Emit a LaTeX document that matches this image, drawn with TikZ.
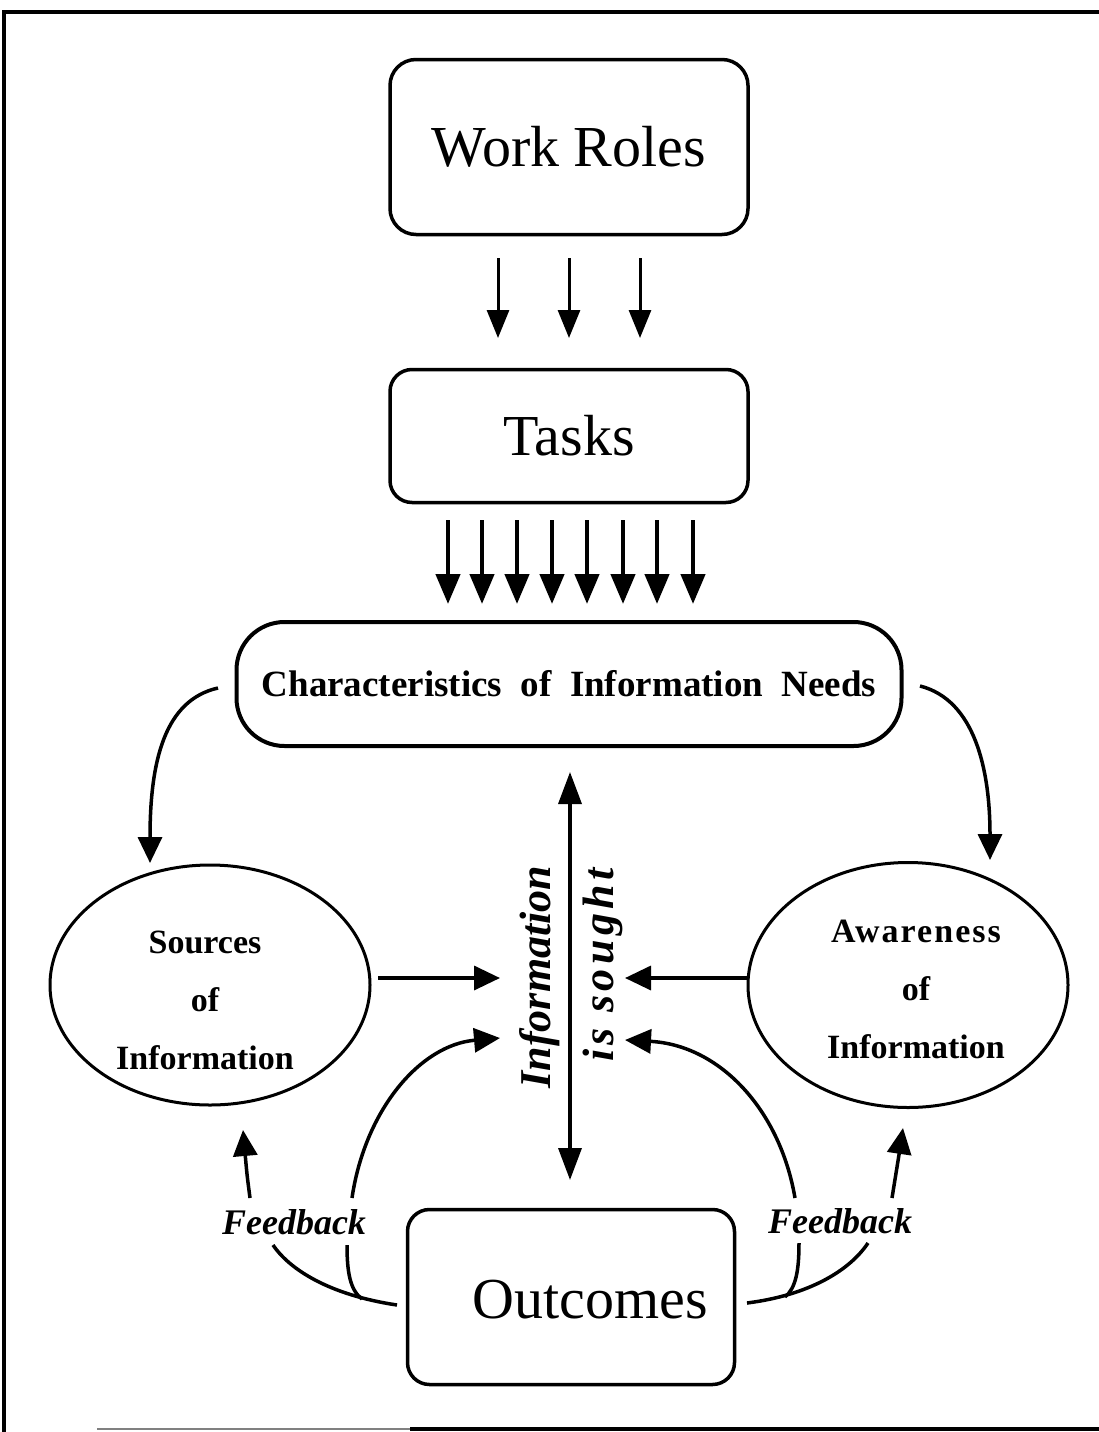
\documentclass[tikz,border=0pt]{standalone}
\usepackage{fontspec}
\setmainfont{Liberation Serif}
\usetikzlibrary{arrows.meta,shapes.geometric}
\begin{document}
\begin{tikzpicture}[x=1pt,y=-1pt,
  box/.style={draw,line width=3.5pt,inner sep=0pt},
  lbl/.style={font=\fontsize{34}{58}\selectfont\bfseries,align=center},
  big/.style={font=\fontsize{58}{60}\selectfont},
  rot/.style={rotate=90,font=\fontsize{44}{46}\selectfont\bfseries\itshape,inner sep=0pt},
  fb/.style={font=\fontsize{36}{38}\selectfont\bfseries\itshape,inner sep=0pt},
  arr/.style={line width=3pt,-{Triangle[length=28pt,width=22pt]}},
  tarr/.style={line width=4.5pt,-{Triangle[length=30pt,width=24pt]}},
  bigarr/.style={line width=3.5pt,-{Triangle[length=26pt,width=24pt]}},
  curve/.style={line width=3.5pt}]
\useasboundingbox (0,0) rectangle (1099,1432);
% frame
\draw[line width=4pt] (4,1432) -- (4,12) -- (1099,12);
\draw[line width=1.5pt,gray] (97,1429) -- (410,1429);
\draw[line width=4pt] (410,1429) -- (1099,1429);

% boxes
\node[box,rounded corners=26pt,minimum width=358pt,minimum height=175pt,big] (wr) at (569,147) {Work Roles};
\node[box,rounded corners=22pt,minimum width=358pt,minimum height=133pt,big] (tk) at (569,436) {Tasks};
\node[box,rounded corners=48pt,minimum width=665pt,minimum height=124pt,line width=4pt,font=\fontsize{37}{40}\selectfont\bfseries] (ch) at (569,684) {Characteristics\hspace{0.25em} of\hspace{0.25em} Information\hspace{0.25em} Needs};
\node[draw,ellipse,line width=3pt,minimum width=320pt,minimum height=240pt,inner sep=0pt] (src) at (210,985) {};
\node[lbl] (srct) at (205,1000) {Sources\\of\\Information};
\node[draw,ellipse,line width=3pt,minimum width=320pt,minimum height=245pt,inner sep=0pt] (awr) at (908,985) {};
\node[lbl] (awrt) at (916,989) {{\addfontfeatures{LetterSpace=6}Awareness}\\of\\Information};
\node[box,rounded corners=22pt,minimum width=327pt,minimum height=175pt] (out) at (571,1297) {};
\node[big] (outt) at (590,1300) {Outcomes};

% rotated labels
\node[rot] (inf) at (540,977) {Information};
\node[rot] (sgt) at (603,965) {\addfontfeatures{LetterSpace=10}is sought};

% Work Roles -> Tasks
\foreach \x in {498,569,640} {
  \coordinate (wa\x) at (\x,258);
  \coordinate (wb\x) at (\x,338);
  \draw[arr] (wa\x) -- (wb\x);
}
% Tasks -> Characteristics
\foreach \x in {448,482,517,552,587,623,657,693} {
  \coordinate (ta\x) at (\x,520);
  \coordinate (tb\x) at (\x,604);
  \draw[tarr] (ta\x) -- (tb\x);
}

% vertical double arrow
\coordinate (v1) at (570,772);
\coordinate (v2) at (570,1180);
\draw[line width=3.5pt,{Triangle[length=32pt,width=23pt]}-{Triangle[length=32pt,width=23pt]}] (v1) -- (v2);

% horizontal arrows
\coordinate (s1) at (378,978);
\coordinate (s2) at (500,978);
\draw[bigarr] (s1) -- (s2);
\coordinate (a1) at (748,978);
\coordinate (a2) at (625,978);
\draw[bigarr] (a1) -- (a2);

% Characteristics curves
\coordinate (cl) at (218,688);
\coordinate (clt) at (150,863);
\draw[bigarr] (cl) .. controls (165,700) and (150,760) .. (clt);
\coordinate (cr) at (920,686);
\coordinate (crt) at (990,860);
\draw[bigarr] (cr) .. controls (975,700) and (990,770) .. (crt);

% Feedback labels
\node[fb] (fbl) at (294,1222) {Feedback};
\node[fb] (fbr) at (840,1221) {Feedback};

% left feedback
\coordinate (lo1) at (397,1305);
\coordinate (lo2) at (273,1245);
\draw[curve] (lo1) .. controls (330,1295) and (290,1270) .. (lo2);
\coordinate (lq1) at (250,1198);
\coordinate (lq2) at (243,1130);
\draw[bigarr] (lq1) .. controls (247,1175) .. (lq2);
\coordinate (li1) at (362,1299);
\coordinate (li2) at (347,1245);
\draw[curve] (li1) .. controls (350,1290) and (347,1272) .. (li2);
\coordinate (lu1) at (352,1198);
\coordinate (lu2) at (500,1038);
\draw[bigarr] (lu1) .. controls (365,1110) and (420,1045) .. (lu2);

% right feedback
\coordinate (ro1) at (747,1303);
\coordinate (ro2) at (868,1243);
\draw[curve] (ro1) .. controls (810,1295) and (850,1270) .. (ro2);
\coordinate (rq1) at (892,1198);
\coordinate (rq2) at (903,1128);
\draw[bigarr] (rq1) .. controls (896,1175) .. (rq2);
\coordinate (ri1) at (785,1297);
\coordinate (ri2) at (799,1243);
\draw[curve] (ri1) .. controls (796,1288) and (799,1270) .. (ri2);
\coordinate (ru1) at (795,1198);
\coordinate (ru2) at (625,1040);
\draw[bigarr] (ru1) .. controls (780,1110) and (720,1045) .. (ru2);
\end{tikzpicture}
\end{document}
